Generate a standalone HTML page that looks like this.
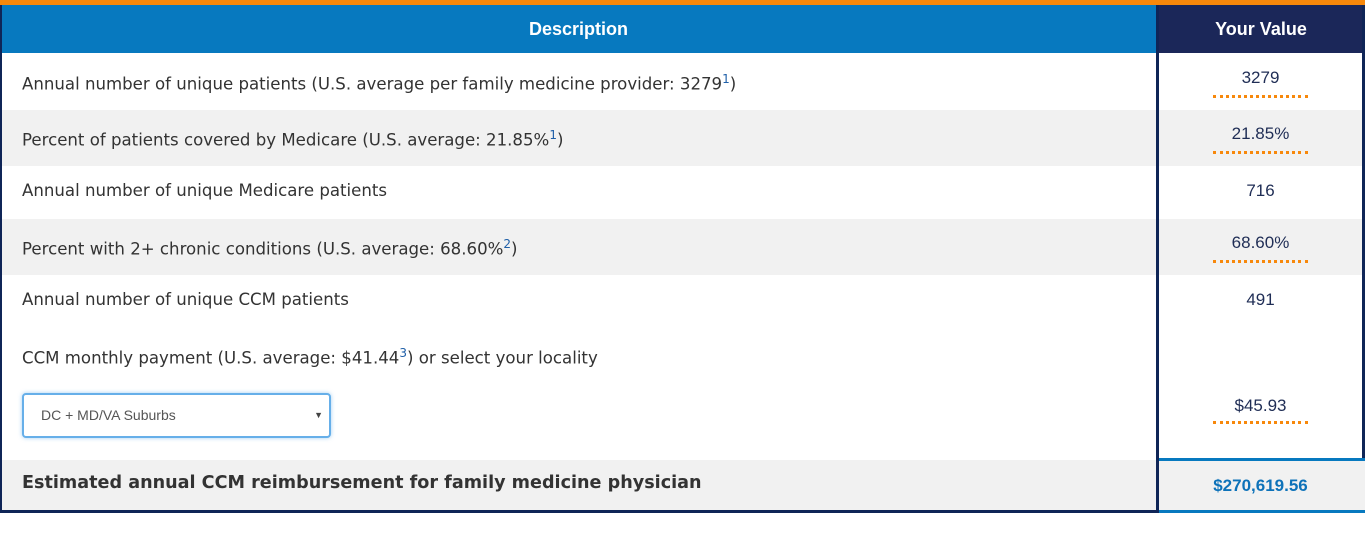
<!DOCTYPE html>
<html><head><meta charset="utf-8"><style>
body{margin:0;width:1365px;height:535px;background:#fff;font-family:"Liberation Sans",sans-serif;position:relative;overflow:hidden}
div{position:absolute;box-sizing:border-box}
.t{left:22px;font-family:"DejaVu Sans",sans-serif;font-size:16.6px;color:#333;white-space:nowrap}
.v{left:1159px;width:203px;text-align:center;font-size:17px;color:#1f2d55}
.u{left:1213px;width:95px;height:0;border-top:3px dotted #f7880b}
sup{font-size:12px;color:#1f5fa8}
</style></head><body>
<div style="left:0;top:0;width:1365px;height:5px;background:#f7880b"></div>
<div style="left:0;top:5px;width:1157px;height:48px;background:#0779bf;color:#fff;font-weight:bold;font-size:18px;text-align:center;line-height:48px">Description</div>
<div style="left:1157px;top:5px;width:208px;height:48px;background:#1b2759;color:#fff;font-weight:bold;font-size:18px;text-align:center;line-height:48px">Your Value</div>
<div style="left:0;top:110px;width:1365px;height:56px;background:#f1f1f1"></div>
<div style="left:0;top:219px;width:1365px;height:56px;background:#f1f1f1"></div>
<div style="left:0;top:460px;width:1365px;height:51px;background:#f1f1f1"></div>
<div style="left:0;top:5px;width:2px;height:508px;background:#0f2557"></div>
<div style="left:1156px;top:5px;width:3px;height:508px;background:#0f2557"></div>
<div style="left:1362px;top:5px;width:3px;height:453px;background:#0f2557"></div>
<div style="left:0;top:510px;width:1157px;height:3px;background:#0f2557"></div>
<div style="left:1159px;top:458px;width:206px;height:3px;background:#0779bf"></div>
<div style="left:1159px;top:510px;width:206px;height:3px;background:#0779bf"></div>

<div class="t" style="top:72px">Annual number of unique patients (U.S. average per family medicine provider: 3279<sup>1</sup>)</div>
<div class="v" style="top:68px">3279</div>
<div class="u" style="top:95px"></div>

<div class="t" style="top:128px">Percent of patients covered by Medicare (U.S. average: 21.85%<sup>1</sup>)</div>
<div class="v" style="top:124px">21.85%</div>
<div class="u" style="top:151px"></div>

<div class="t" style="top:181px">Annual number of unique Medicare patients</div>
<div class="v" style="top:181px">716</div>

<div class="t" style="top:237px">Percent with 2+ chronic conditions (U.S. average: 68.60%<sup>2</sup>)</div>
<div class="v" style="top:233px">68.60%</div>
<div class="u" style="top:260px"></div>

<div class="t" style="top:290px">Annual number of unique CCM patients</div>
<div class="v" style="top:290px">491</div>

<div class="t" style="top:346px">CCM monthly payment (U.S. average: $41.44<sup>3</sup>) or select your locality</div>
<div style="left:22px;top:393px;width:309px;height:45px;border:2px solid #66afe9;border-radius:4px;box-shadow:0 0 4px rgba(102,175,233,.6);background:#fff;font-size:14px;color:#555;line-height:41px;padding-left:17px">DC + MD/VA Suburbs<span style="position:absolute;right:6px;top:0;font-size:9px;color:#444">▼</span></div>
<div class="v" style="top:396px">$45.93</div>
<div class="u" style="top:421px"></div>

<div class="t" style="top:473px;font-weight:bold;font-size:17.6px">Estimated annual CCM reimbursement for family medicine physician</div>
<div class="v" style="top:476px;font-weight:bold;color:#0d72b9">$270,619.56</div>
</body></html>
